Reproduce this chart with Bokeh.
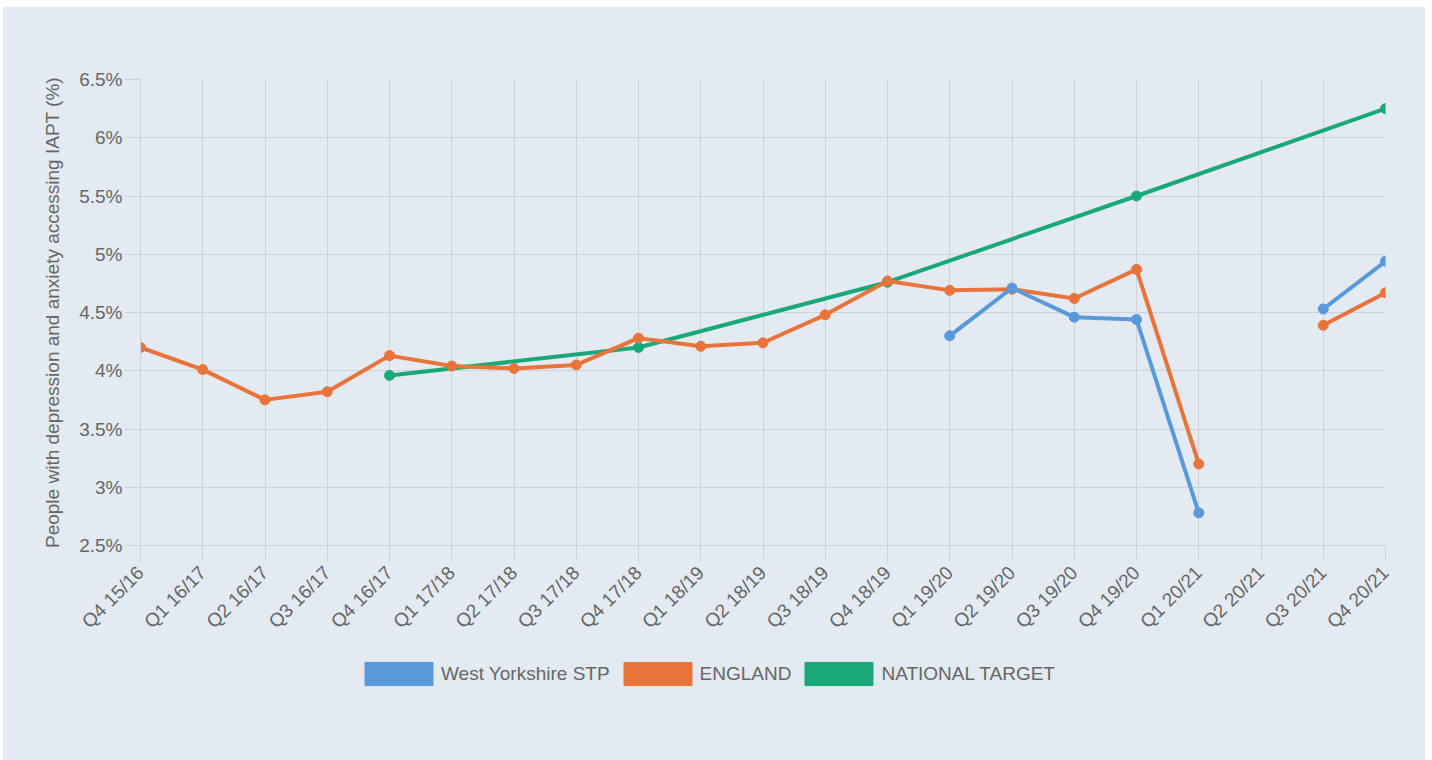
import math
from bokeh.plotting import figure
from bokeh.layouts import column
from bokeh.models import (Range1d, FixedTicker, Legend, LegendItem)
from bokeh.embed import file_html
from bokeh.resources import INLINE

nan = float("nan")

categories = ["Q4 15/16", "Q1 16/17", "Q2 16/17", "Q3 16/17", "Q4 16/17", "Q1 17/18",
              "Q2 17/18", "Q3 17/18", "Q4 17/18", "Q1 18/19", "Q2 18/19", "Q3 18/19",
              "Q4 18/19", "Q1 19/20", "Q2 19/20", "Q3 19/20", "Q4 19/20", "Q1 20/21",
              "Q2 20/21", "Q3 20/21", "Q4 20/21"]

west_yorkshire = [None, None, None, None, None, None, None, None, None, None, None, None,
                  None, 4.30, 4.71, 4.46, 4.44, 2.78, None, 4.53, 4.94]
england = [4.20, 4.01, 3.75, 3.82, 4.13, 4.04, 4.02, 4.05, 4.28, 4.21, 4.24, 4.48,
           4.77, 4.69, 4.70, 4.62, 4.87, 3.20, None, 4.39, 4.67]
national_target = [None, None, None, None, 3.96, None, None, None, 4.20, None, None, None,
                   4.76, None, None, None, 5.50, None, None, None, 6.25]

y_ticks = [2.5, 3.0, 3.5, 4.0, 4.5, 5.0, 5.5, 6.0, 6.5]

series_names = ["West Yorkshire STP", "ENGLAND", "NATIONAL TARGET"]
colors = ["#5899DA", "#E8743B", "#19A979"]

BG = "#e4eaf1"
GRID = "#cbd2da"
TXT = "#666666"
FONT = "Liberation Sans"
FS = "19px"

p = figure(width=1422, height=635, output_backend="svg", toolbar_location=None,
           x_range=Range1d(0, len(categories) - 1), y_range=Range1d(2.5, 6.5),
           min_border_left=137, min_border_right=40, min_border_top=72, min_border_bottom=97)
p.background_fill_color = BG
p.border_fill_color = BG
p.outline_line_color = None

for ax in (p.xaxis[0], p.yaxis[0]):
    ax.axis_line_color = GRID
    ax.major_tick_line_color = GRID
    ax.minor_tick_line_color = None
    ax.major_tick_in = 0
    ax.major_tick_out = 16
    ax.major_label_standoff = 2
    ax.major_label_text_font = FONT
    ax.major_label_text_font_size = FS
    ax.major_label_text_color = TXT

p.xaxis[0].ticker = FixedTicker(ticks=list(range(len(categories))))
p.xaxis[0].major_label_overrides = {i: c for i, c in enumerate(categories)}
p.xaxis[0].major_label_orientation = math.pi / 4
p.xaxis[0].major_label_standoff = 8

p.yaxis[0].ticker = FixedTicker(ticks=y_ticks)
p.yaxis[0].major_label_overrides = {v: f"{v:g}%" for v in y_ticks}
p.yaxis[0].axis_label = "People with depression and anxiety accessing IAPT (%)"
p.yaxis[0].axis_label_text_font = FONT
p.yaxis[0].axis_label_text_font_size = FS
p.yaxis[0].axis_label_text_font_style = "normal"
p.yaxis[0].axis_label_text_color = TXT
p.yaxis[0].axis_label_standoff = 13

p.xgrid.grid_line_color = GRID
p.ygrid.grid_line_color = GRID
p.xgrid.ticker = p.xaxis[0].ticker
p.ygrid.ticker = p.yaxis[0].ticker


def to_xy(vals, drop_missing):
    xs, ys = [], []
    for i, v in enumerate(vals):
        if v is None:
            if not drop_missing:
                xs.append(i)
                ys.append(nan)
        else:
            xs.append(i)
            ys.append(v)
    return xs, ys


series = [west_yorkshire, england, national_target]
for k in [2, 1, 0]:
    vals = series[k]
    xs, ys = to_xy(vals, drop_missing=(k == 2))
    p.line(xs, ys, line_color=colors[k], line_width=4)
    px, py = to_xy(vals, drop_missing=True)
    p.scatter(px, py, size=10, fill_color=colors[k], line_color=colors[k])

# legend strip below the chart
lp = figure(width=1422, height=118, output_backend="svg", toolbar_location=None,
            x_range=Range1d(0, 1), y_range=Range1d(0, 1),
            min_border_left=0, min_border_right=0, min_border_top=0, min_border_bottom=0)
lp.axis.visible = False
lp.grid.visible = False
lp.background_fill_alpha = 0
lp.border_fill_alpha = 0
lp.outline_line_color = None

legend_items = []
for k in range(3):
    # swatch renderer placed outside the visible range; only its legend box shows
    r = lp.quad(left=[-10], right=[-9], top=[-10], bottom=[-9],
                fill_color=colors[k], line_color=colors[k])
    legend_items.append(LegendItem(label=series_names[k], renderers=[r]))

legend = Legend(items=legend_items, orientation="horizontal", location=(216, 72),
                glyph_width=85, glyph_height=29, label_standoff=0, spacing=5,
                padding=0, margin=0, border_line_color=None, background_fill_alpha=0,
                label_text_font=FONT, label_text_font_size=FS, label_text_color=TXT,
                label_height=29)
lp.add_layout(legend, "center")

layout = column(p, lp, spacing=0)
layout.margin = (7, 0, 0, 3)
layout.styles = {"background-color": BG}
open("out.html", "w").write(file_html(layout, INLINE))
